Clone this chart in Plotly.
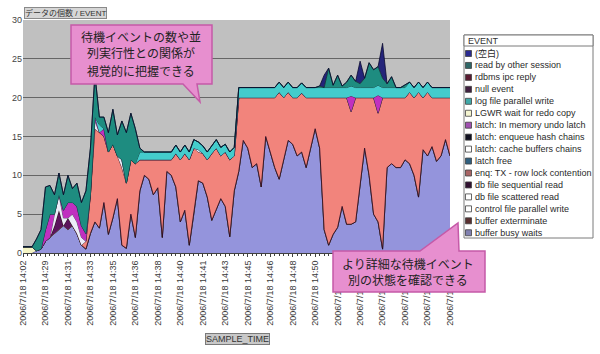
import plotly.graph_objects as go

# ---------------- data ----------------
sample_index = list(range(96))
tick_index = [0, 5, 10, 15, 20, 25, 30, 35, 40, 45, 50, 55, 60, 65, 70, 75, 80, 85, 90, 95]
tick_labels = ["2006/7/18 14:02", "2006/7/18 14:29", "2006/7/18 14:31", "2006/7/18 14:33",
               "2006/7/18 14:35", "2006/7/18 14:36", "2006/7/18 14:38", "2006/7/18 14:40",
               "2006/7/18 14:41", "2006/7/18 14:43", "2006/7/18 14:45", "2006/7/18 14:46",
               "2006/7/18 14:48", "2006/7/18 14:50", "2006/7/18 14:51", "2006/7/18 14:53",
               "2006/7/18 14:55", "2006/7/18 14:56", "2006/7/18 14:58", "2006/7/18 15:00"]

buffer_busy_waits = [
    0, 0, 0, 0.3, 0.5, 1.5, 2.0, 2.5, 3.0, 3.5, 3.0, 3.5,
    2.5, 1.0, 0.5, 2.5, 4.0, 3.2, 6.5, 2.4, 4.5, 7.0, 1.0, 0.6,
    5.0, 2.0, 8.0, 10.0, 9.5, 7.5, 8.4, 2.0, 10.5, 10.0, 8.5, 4.0,
    5.5, 1.0, 5.0, 9.3, 9.0, 7.2, 4.2, 5.5, 7.0, 6.0, 2.1, 8.0,
    10.5, 14.5, 13.5, 11.0, 11.5, 8.5, 15.0, 13.0, 11.0, 9.5, 12.0, 14.5,
    14.0, 12.5, 13.0, 11.0, 13.5, 16.0, 13.5, 3.0, 1.0, 2.4, 3.3, 6.0,
    3.7, 3.7, 4.0, 9.0, 13.5, 10.0, 5.0, 4.0, 0.5, 11.0, 11.5, 11.0,
    11.0, 12.0, 11.5, 10.0, 7.2, 13.3, 12.5, 13.7, 11.8, 12.5, 14.6, 12.5]
buffer_exterminate = [
    0, 0, 0, 0, 0, 0, 0, 0, 0, 0, 0, 0,
    0, 0, 0, 0, 0, 0, 0, 0, 0, 0, 0, 0,
    0, 0, 0, 0, 0, 0, 0, 0, 0, 0, 0, 0,
    0, 0, 0, 0, 0, 0, 0, 0, 0, 0, 0, 0,
    0, 0, 0, 0, 0, 0, 0, 0, 0, 0, 0, 0,
    0, 0, 0, 0, 0, 0, 0, 0, 0, 0, 0, 0,
    0, 0, 0, 0, 0, 0, 0, 0, 0, 0, 0, 0,
    0, 0, 0, 0, 0, 0, 0, 0, 0, 0, 0, 0]
control_file_parallel_write = [
    0.8, 0.8, 0.8, 0, 0, 0, 0, 0, 0, 0, 0, 0,
    0, 0, 0, 0, 0, 0, 0, 0, 0, 0, 0, 0,
    0, 0, 0, 0, 0, 0, 0, 0, 0, 0, 0, 0,
    0, 0, 0, 0, 0, 0, 0, 0, 0, 0, 0, 0,
    0, 0, 0, 0, 0, 0, 0, 0, 0, 0, 0, 0,
    0, 0, 0, 0, 0, 0, 0, 0, 0, 0, 0, 0,
    0, 0, 0, 0, 0, 0, 0, 0, 0, 0, 0, 0,
    0, 0, 0, 0, 0, 0, 0, 0, 0, 0, 0, 0]
db_file_scattered_read = [
    0, 0, 0, 0, 0, 0, 0, 0, 0, 0, 0, 0,
    0, 0, 0, 0, 0, 0, 0, 0, 0, 0, 0, 0,
    0, 0, 0, 0, 0, 0, 0, 0, 0, 0, 0, 0,
    0, 0, 0, 0, 0, 0, 0, 0, 0, 0, 0, 0,
    0, 0, 0, 0, 0, 0, 0, 0, 0, 0, 0, 0,
    0, 0, 0, 0, 0, 0, 0, 0, 0, 0, 0, 0,
    0, 0, 0, 0, 0, 0, 0, 0, 0, 0, 0, 0,
    0, 0, 0, 0, 0, 0, 0, 0, 0, 0, 0, 0]
db_file_sequential_read = [
    0, 0, 0, 0, 0, 0, 0, 1.0, 2.5, 0, 1.5, 0,
    0, 0, 0, 0, 0, 0, 0, 0, 0, 0, 0, 0,
    0, 0, 0, 0, 0, 0, 0, 0, 0, 0, 0, 0,
    0, 0, 0, 0, 0, 0, 0, 0, 0, 0, 0, 0,
    0, 0, 0, 0, 0, 0, 0, 0, 0, 0, 0, 0,
    0, 0, 0, 0, 0, 0, 0, 0, 0, 0, 0, 0,
    0, 0, 0, 0, 0, 0, 0, 0, 0, 0, 0, 0,
    0, 0, 0, 0, 0, 0, 0, 0, 0, 0, 0, 0]
enq_tx_row_lock = [
    0, 0, 0, 0, 0, 0, 0, 0, 0, 0, 0, 0,
    0, 0, 1.0, 5.0, 12.0, 12.3, 8.5, 10.6, 9.5, 5.5, 10.0, 8.4,
    7.0, 9.5, 4.0, 2.0, 2.5, 4.5, 3.6, 10.0, 1.5, 2.0, 4.3, 8.0,
    7.3, 11.0, 8.5, 3.7, 3.8, 4.8, 8.6, 8.0, 5.5, 7.0, 9.9, 4.5,
    9.5, 5.5, 6.5, 9.0, 8.5, 11.5, 5.0, 7.0, 9.0, 11.2, 8.0, 6.2,
    6.0, 7.5, 7.6, 9.0, 6.5, 4.0, 6.5, 17.0, 19.0, 17.6, 16.7, 14.0,
    16.3, 14.5, 16.0, 11.0, 6.5, 10.0, 15.0, 14.0, 19.5, 9.0, 8.5, 9.0,
    9.0, 8.0, 9.2, 10.0, 13.5, 6.7, 8.2, 6.3, 8.2, 7.5, 5.4, 7.5]
latch_free = [
    0, 0, 0, 0, 0, 0, 0, 0, 0, 0, 0, 0,
    0, 0, 0, 0, 0, 0, 0, 0, 0, 0, 0, 0,
    0, 0, 0, 0, 0, 0, 0, 0, 0, 0, 0, 0,
    0, 0, 0, 0, 0, 0, 0, 0, 0, 0, 0, 0,
    0, 0, 0, 0, 0, 0, 0, 0, 0, 0, 0, 0,
    0, 0, 0, 0, 0, 0, 0, 0, 0, 0, 0, 0,
    0, 0, 0, 0, 0, 0, 0, 0, 0, 0, 0, 0,
    0, 0, 0, 0, 0, 0, 0, 0, 0, 0, 0, 0]
latch_cache_buffers_chains = [
    0, 0, 0, 0, 0, 0, 0, 1.5, 2.0, 1.0, 0, 1.5,
    1.5, 1.0, 0, 0, 1.0, 0, 0, 0, 0, 0, 1.0, 0,
    0, 0, 0, 0, 0, 0, 0, 0, 0, 0, 0, 0,
    0, 0, 0, 0.3, 0, 0, 0, 0, 0, 0, 0, 0,
    0, 0, 0, 0, 0, 0, 0, 0, 0, 0, 0, 0,
    0, 0, 0, 0, 0, 0, 0, 0, 0, 0, 0, 0,
    0, 0, 0, 0, 0, 0, 0, 0, 0, 0, 0, 0,
    0, 0, 0, 0, 0, 0, 0, 0, 0, 0, 0, 0]
latch_enqueue_hash_chains = [
    0, 0, 0, 0, 0, 0, 0, 0, 0, 0, 0, 0,
    0, 0, 0, 0, 0, 0, 0, 0, 0, 0, 0, 0,
    0, 0, 0, 0, 0, 0, 0, 0, 0, 0, 0, 0,
    0, 0, 0, 0, 0, 0, 0, 0, 0, 0, 0, 0,
    0, 0, 0, 0, 0, 0, 0, 0, 0, 0, 0, 0,
    0, 0, 0, 0, 0, 0, 0, 0, 0, 0, 0, 0,
    0, 0, 0, 0, 0, 0, 0, 0, 0, 0, 0, 0,
    0, 0, 0, 0, 0, 0, 0, 0, 0, 0, 0, 0]
latch_in_memory_undo = [
    0, 0, 0, 0, 0, 1.5, 3.0, 0, 0, 1.0, 2.0, 1.5,
    2.0, 1.5, 1.0, 0, 0.5, 0, 1.0, 0, 0, 0, 0, 0,
    0, 0, 0, 0, 0, 0, 0, 0, 0, 0, 0, 0,
    0, 0, 0, 0, 0, 0, 0, 0, 0, 0, 0, 0,
    0, 0, 0, 0, 0, 0, 0, 0, 0, 0, 0, 0,
    0, 0, 0, 0, 0, 0, 0, 0, 0, 0, 0, 0,
    0, 2.0, 0, 0, 0, 0, 0, 2.3, 0, 0, 0, 0,
    0, 0, 0, 0, 0, 0, 0, 0, 0, 0, 0, 0]
lgwr_wait_for_redo_copy = [
    0, 0, 0, 0, 0, 0, 0, 0, 0, 0, 0, 0,
    0, 0, 0, 0, 0, 0, 0, 0, 0, 0, 0, 0,
    0, 0, 0, 0, 0, 0, 0, 0, 0, 0, 0, 0,
    0, 0, 0, 0, 0, 0, 0, 0, 0, 0, 0, 0,
    0, 0, 0, 0, 0, 0, 0, 0, 0, 0, 0, 0,
    0, 0, 0, 0, 0, 0, 0, 0, 0, 0, 0, 0,
    0, 0, 0, 0, 0, 0, 0, 0, 0, 0, 0, 0,
    0, 0, 0, 0, 0, 0, 0, 0, 0, 0, 0, 0]
log_file_parallel_write = [
    0, 0, 0, 0, 0, 0, 0, 0, 0, 0, 0, 0,
    0, 0, 0, 0, 0, 1.0, 0, 0, 0, 0, 0, 0,
    0, 0, 1.0, 1.0, 1.0, 1.0, 1.0, 1.0, 1.0, 1.0, 1.1, 1.0,
    1.1, 1.0, 1.1, 1.0, 1.0, 1.0, 1.0, 1.1, 1.1, 1.0, 1.0, 1.1,
    1.3, 1.3, 1.3, 1.3, 1.3, 1.3, 1.3, 1.3, 1.3, 1.3, 1.3, 1.3,
    1.3, 1.3, 1.3, 1.3, 1.3, 1.3, 1.3, 1.3, 1.3, 1.3, 1.3, 1.3,
    1.3, 1.3, 1.3, 1.3, 1.3, 1.3, 1.3, 1.3, 1.3, 1.3, 1.3, 1.3,
    1.3, 1.3, 1.3, 1.3, 1.3, 1.3, 1.3, 1.3, 1.3, 1.3, 1.3, 1.3]
null_event = [
    0, 0, 0, 0, 0, 0, 0, 0, 0, 0, 0, 0,
    0, 0, 0, 0, 0, 0, 0, 0, 0, 0, 0, 0,
    0, 0, 0, 0, 0, 0, 0, 0, 0, 0, 0, 0,
    0, 0, 0, 0, 0, 0, 0, 0, 0, 0, 0, 0,
    0, 0, 0, 0, 0, 0, 0, 0, 0, 0, 0, 0,
    0, 0, 0, 0, 0, 0, 0, 0, 0, 0, 0, 0,
    0, 0, 0, 0, 0, 0, 0, 0, 0, 0, 0, 0,
    0, 0, 0, 0, 0, 0, 0, 0, 0, 0, 0, 0]
rdbms_ipc_reply = [
    0, 0, 0, 0, 0, 0, 0, 0, 0, 0, 0, 0,
    0, 0, 0, 0, 0, 0, 0, 0, 0, 0, 0, 0,
    0, 0, 0, 0, 0, 0, 0, 0, 0, 0, 0, 0,
    0, 0, 0, 0, 0, 0, 0, 0, 0, 0, 0, 0,
    0, 0, 0, 0, 0, 0, 0, 0, 0, 0, 0, 0,
    0, 0, 0, 0, 0, 0, 0, 0, 0, 0, 0, 0,
    0, 0, 0, 0, 0, 0, 0, 0, 0, 0, 0, 0,
    0, 0, 0, 0, 0, 0, 0, 0, 0, 0, 0, 0]
read_by_other_session = [
    0, 0, 0, 1.5, 2.5, 5.5, 3.7, 2.5, 2.8, 2.0, 3.5, 1.8,
    3.0, 3.0, 5.5, 6.0, 5.5, 1.0, 1.5, 2.5, 4.5, 2.7, 5.0, 6.5,
    6.0, 4.5, 0.5, 0, 0, 0, 0, 0, 0, 0, 0, 0,
    0, 0, 0, 0, 0, 0, 0, 0, 0, 0, 0, 0,
    0, 0, 0, 0, 0, 0, 0, 0, 0, 0, 0, 0,
    0, 0, 0, 0, 0, 0, 0.2, 0, 2.5, 0.3, 1.6, 0.2,
    0.7, 1.4, 0.8, 0.5, 1.2, 3.2, 2.3, 2.4, 1.2, 0.5, 1.4, 0,
    0, 0.3, 0, 0, 0, 0, 0, 0, 0, 0, 0, 0]
blank_event = [
    0, 0, 0, 0, 0, 0, 0, 0, 0, 0, 0, 0,
    0, 0, 0, 0, 0, 0, 0, 0, 0, 0, 0, 0,
    0, 0, 0, 0, 0, 0, 0, 0, 0, 0, 0, 0,
    0, 0, 0, 0, 0, 0, 0, 0, 0, 0, 0, 0,
    0, 0, 0, 0, 0, 0, 0, 0, 0, 0, 0, 0,
    0, 0, 0, 0, 0, 0, 0, 1.6, 0, 0, 0, 0,
    0, 0, 0, 2.9, 0, 0, 0, 0, 4.5, 0, 0, 0,
    0, 0, 0, 0, 0, 0, 0, 0, 0, 0, 0, 0]

# stacking order: bottom -> top  (name, values, fill, line color, line width)
series = [
    ("buffer busy waits", buffer_busy_waits, "#9494dc", "#22226a", 0.9),
    ("buffer exterminate", buffer_exterminate, "#8a3c5c", "#301020", 0),
    ("control file parallel write", control_file_parallel_write, "#f4f4c4", "#6a6a20", 0.8),
    ("db file scattered read", db_file_scattered_read, "#e4f6f6", "#303030", 0),
    ("db file sequential read", db_file_sequential_read, "#5c145c", "#200020", 0.8),
    ("enq: TX - row lock contention", enq_tx_row_lock, "#f2847c", "#3a1a22", 0.9),
    ("latch free", latch_free, "#2a6aa8", "#102030", 0),
    ("latch: cache buffers chains", latch_cache_buffers_chains, "#ececf8", "#303040", 0.7),
    ("latch: enqueue hash chains", latch_enqueue_hash_chains, "#1a1a50", "#000000", 0),
    ("latch: In memory undo latch", latch_in_memory_undo, "#c030c0", "#300030", 0.7),
    ("LGWR wait for redo copy", lgwr_wait_for_redo_copy, "#f0f040", "#606010", 0),
    ("log file parallel write", log_file_parallel_write, "#44cccc", "#0e4a4a", 0.9),
    ("null event", null_event, "#602060", "#200020", 0),
    ("rdbms ipc reply", rdbms_ipc_reply, "#6a1a2a", "#200010", 0),
    ("read by other session", read_by_other_session, "#1e8c80", "#0a3030", 0.8),
    ("(空白)", blank_event, "#24247a", "#0a0a30", 0.8),
]

legend_icon_colors = {
    "(空白)": "#2a2a90", "read by other session": "#2e6666", "rdbms ipc reply": "#5a1a30",
    "null event": "#402040", "log file parallel write": "#3fa8a8", "LGWR wait for redo copy": "#f4f4d0",
    "latch: In memory undo latch": "#a050b0", "latch: enqueue hash chains": "#101020",
    "latch: cache buffers chains": "#ffffff", "latch free": "#2f5f7f",
    "enq: TX - row lock contention": "#a86464", "db file sequential read": "#301030",
    "db file scattered read": "#ffffff", "control file parallel write": "#ffffff",
    "buffer exterminate": "#5a3030", "buffer busy waits": "#8080b0",
}

# ---------------- figure ----------------
L, R, T, B = 23, 450, 20, 253   # plot area in pixels


def xp(px):
    return (px - L) / (R - L)


def yp(py):
    return (B - py) / (B - T)


fig = go.Figure()
for name, vals, fill, lcol, lw in series:
    fig.add_trace(go.Scatter(
        x=sample_index, y=vals, name=name, mode="lines", stackgroup="ev",
        fillcolor=fill, line=dict(color=lcol, width=lw), showlegend=False,
    ))

shapes = []
annotations = []

# callouts
callout_fill = "#e78fcf"
callout_line = "#c55aa8"


def path(points):
    s = "M " + " L ".join(f"{xp(a):.5f},{yp(b):.5f}" for a, b in points) + " Z"
    return s


upper = [(71, 25), (212, 25), (212, 84), (197, 84), (200, 102), (183, 84), (71, 84)]
lower = [(333, 251), (420, 251), (458, 223), (459, 251), (485, 251), (485, 292), (333, 292)]
for pts in (upper, lower):
    shapes.append(dict(type="path", path=path(pts), xref="paper", yref="paper",
                       fillcolor=callout_fill, line=dict(color=callout_line, width=1.5),
                       layer="above"))

jp_font = "Noto Sans CJK JP"
upper_lines = ["待機イベントの数や並", "列実行性との関係が", "視覚的に把握できる"]
for k, txt in enumerate(upper_lines):
    annotations.append(dict(text=txt, x=xp(141), y=yp(36 + 17 * k), xref="paper", yref="paper",
                            showarrow=False, xanchor="center", yanchor="middle",
                            font=dict(family=jp_font, size=12, color="#222222")))
lower_lines = ["より詳細な待機イベント", "別の状態を確認できる"]
for k, txt in enumerate(lower_lines):
    annotations.append(dict(text=txt, x=xp(408), y=yp(263 + 16.5 * k), xref="paper", yref="paper",
                            showarrow=False, xanchor="center", yanchor="middle",
                            font=dict(family=jp_font, size=12, color="#222222")))

# custom legend
lg_x0, lg_x1, lg_y0, lg_y1 = 464, 593, 35, 238
shapes.append(dict(type="rect", xref="paper", yref="paper", x0=xp(lg_x0), x1=xp(lg_x1),
                   y0=yp(lg_y0), y1=yp(lg_y1), fillcolor="white",
                   line=dict(color="#7a7a7a", width=1), layer="above"))
shapes.append(dict(type="rect", xref="paper", yref="paper", x0=xp(lg_x0), x1=xp(lg_x1),
                   y0=yp(lg_y0), y1=yp(46), fillcolor="white",
                   line=dict(color="#7a7a7a", width=1), layer="above"))
small_font = "Liberation Sans, Noto Sans CJK JP"
annotations.append(dict(text="EVENT", x=xp(466), y=yp(40.5), xref="paper", yref="paper",
                        showarrow=False, xanchor="left", yanchor="middle",
                        font=dict(family=small_font, size=9, color="#333333")))
legend_order = [s[0] for s in series][::-1]
for k, name in enumerate(legend_order):
    yc = 53.5 + 11.95 * k
    shapes.append(dict(type="rect", xref="paper", yref="paper", x0=xp(465.5), x1=xp(471.5),
                       y0=yp(yc - 3), y1=yp(yc + 3), fillcolor=legend_icon_colors[name],
                       line=dict(color="#404040", width=0.8), layer="above"))
    annotations.append(dict(text=name, x=xp(473), y=yp(yc), xref="paper", yref="paper",
                            showarrow=False, xanchor="left", yanchor="middle",
                            font=dict(family=small_font, size=9, color="#2a2a2a")))

# field buttons
annotations.append(dict(text="データの個数 / EVENT", x=xp(24), y=yp(13.5), xref="paper", yref="paper",
                        showarrow=False, xanchor="left", yanchor="middle",
                        bgcolor="#d6d6d6", bordercolor="#8a8a8a", borderwidth=1, borderpad=0,
                        font=dict(family=small_font, size=8, color="#333333")))
annotations.append(dict(text="SAMPLE_TIME", x=xp(237), y=yp(339), xref="paper", yref="paper",
                        showarrow=False, xanchor="center", yanchor="middle",
                        bgcolor="#c8c8c8", bordercolor="#7a7a7a", borderwidth=1, borderpad=0,
                        font=dict(family=small_font, size=9, color="#333333")))

fig.update_layout(
    width=600, height=354, autosize=False,
    margin=dict(l=L, r=600 - R, t=T, b=354 - B, pad=0),
    paper_bgcolor="white", plot_bgcolor="#c0c0c0",
    shapes=shapes, annotations=annotations, hovermode=False,
    font=dict(family=small_font, size=9, color="#333333"),
)
fig.update_xaxes(
    range=[0, 95], tickmode="array", tickvals=tick_index, ticktext=tick_labels,
    tickangle=-90, tickfont=dict(size=9, color="#3a3a3a"), showgrid=False, zeroline=False,
    showline=True, linecolor="#404040", linewidth=1, ticks="outside", ticklen=3,
    tickcolor="#404040", minor=dict(ticks="outside", ticklen=2, dtick=1, tickcolor="#404040"),
)
fig.update_yaxes(
    range=[0, 30], dtick=5, showgrid=True, gridcolor="#666666", gridwidth=1,
    zeroline=False, showline=False, ticks="", tickfont=dict(size=9, color="#444444"),
)

fig.write_html("out.html")
